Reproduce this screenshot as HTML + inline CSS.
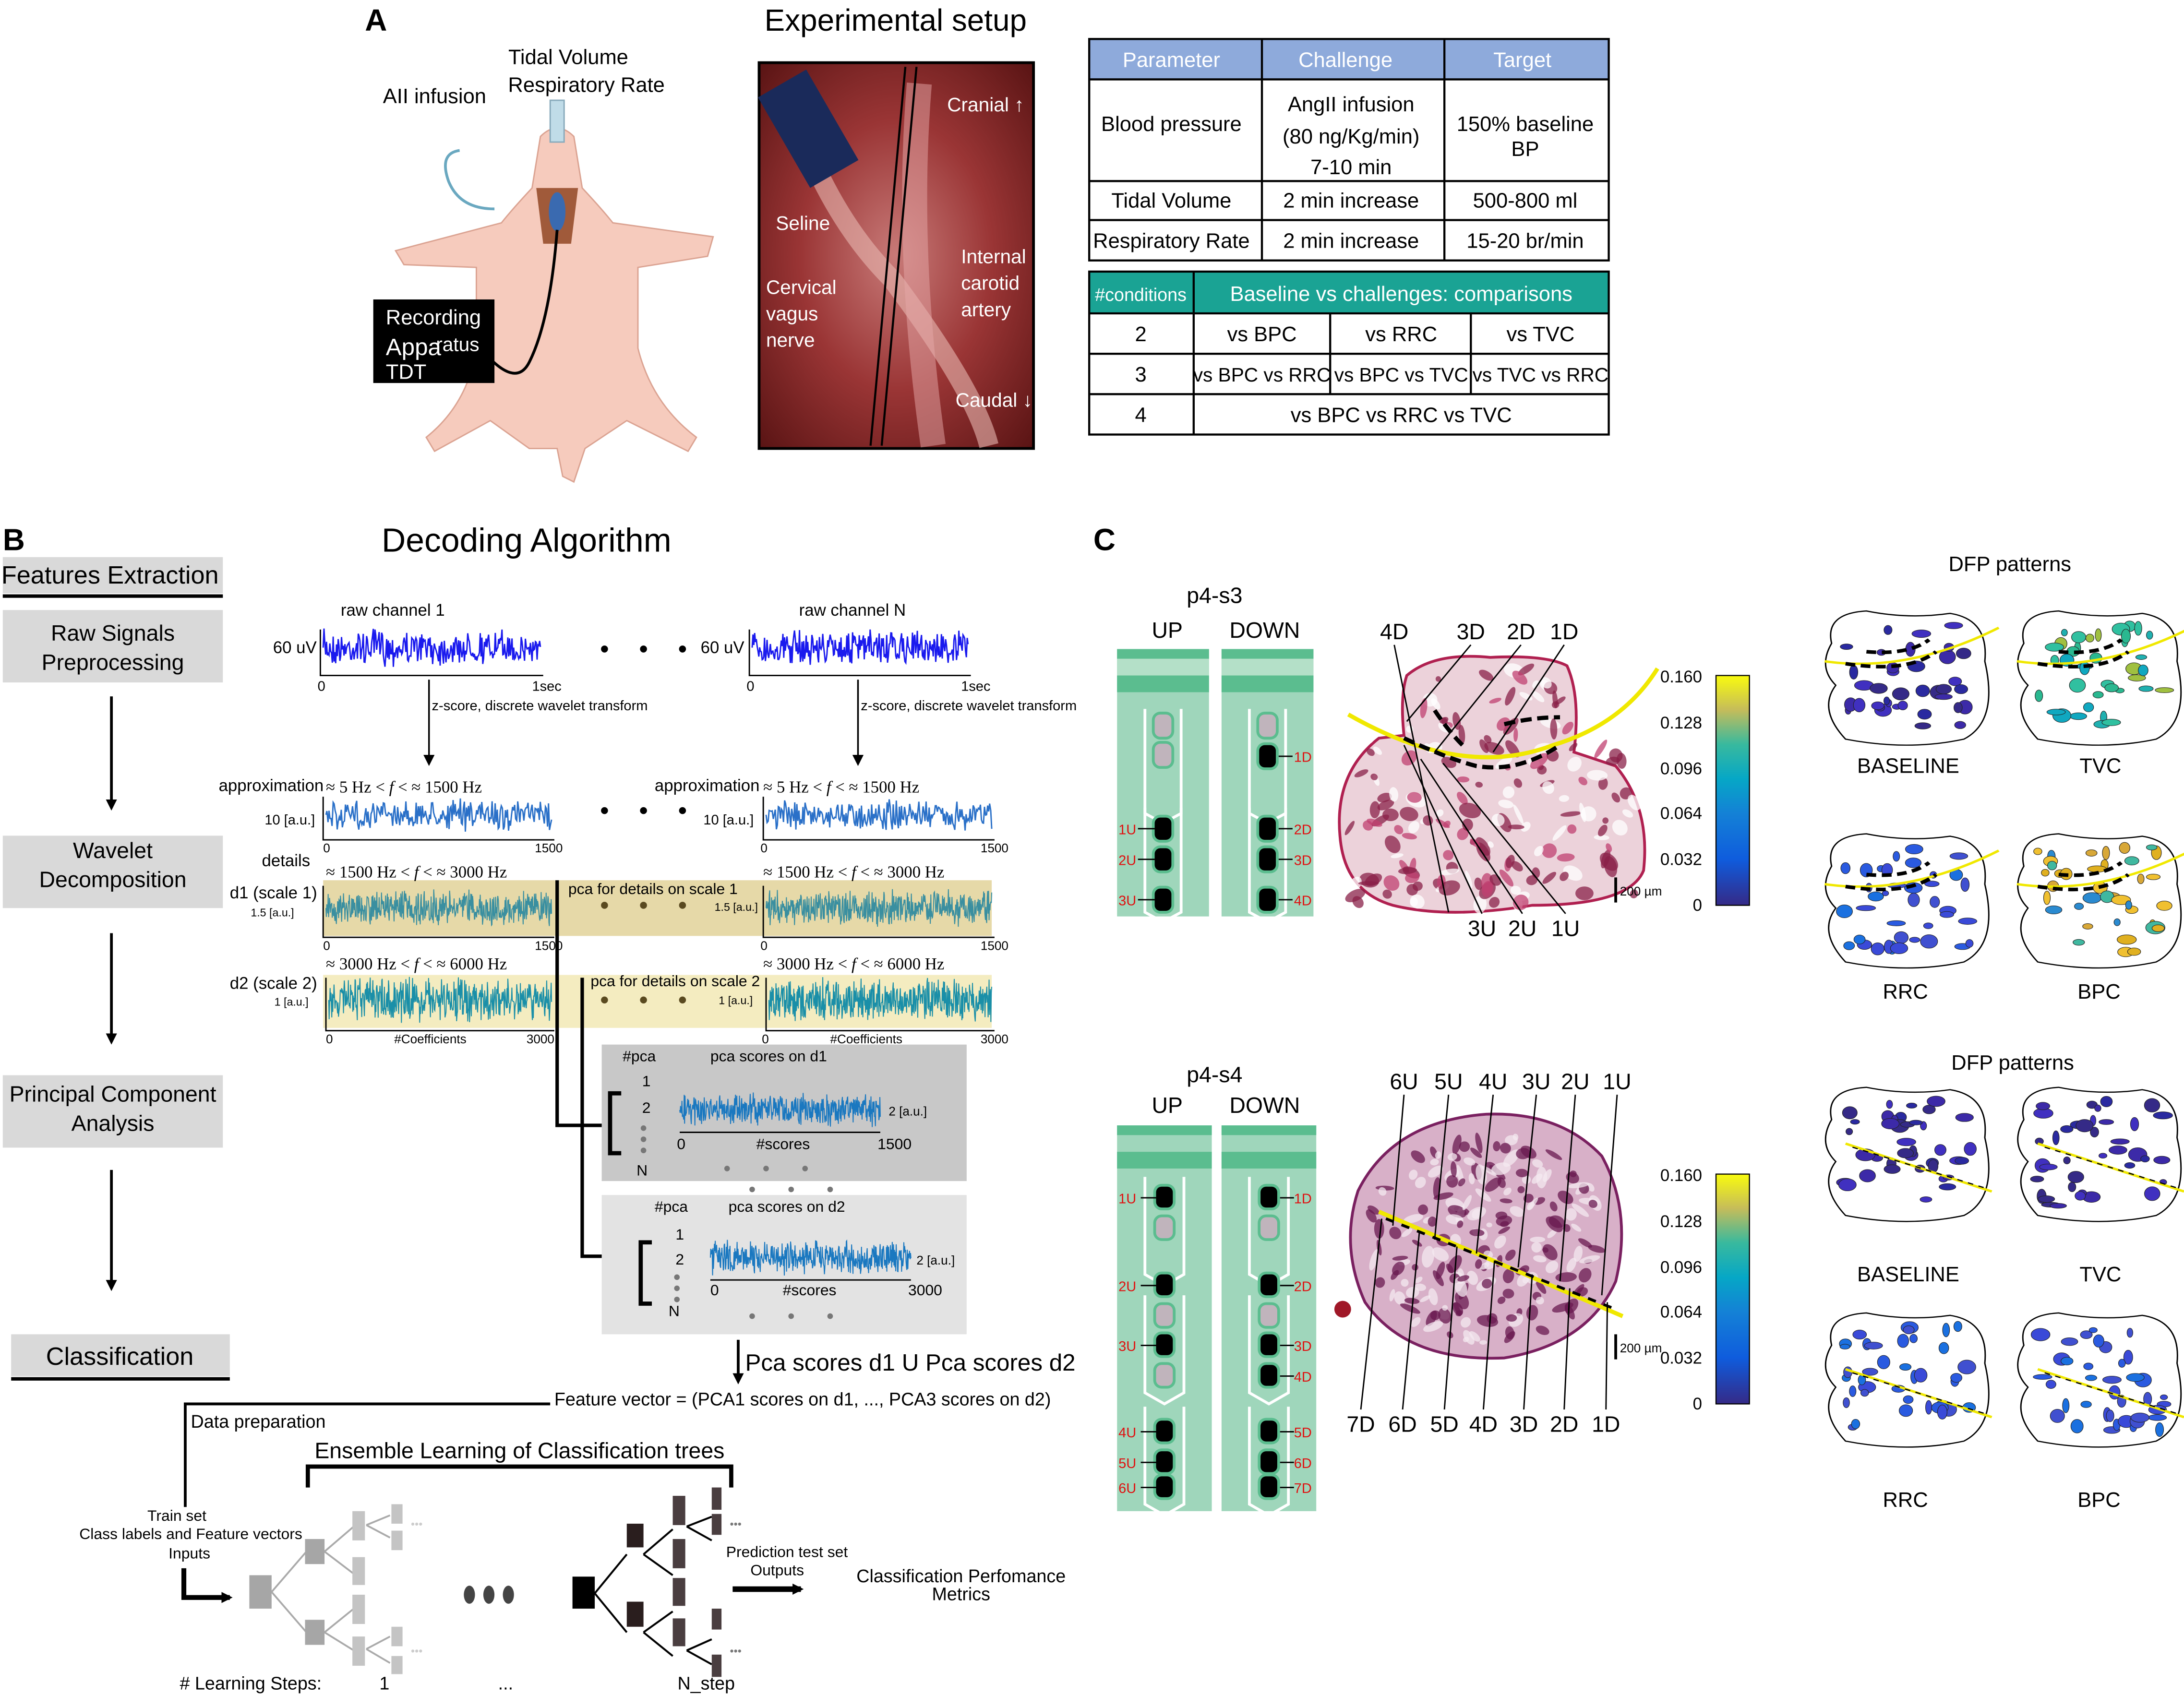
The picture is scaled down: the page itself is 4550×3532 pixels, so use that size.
<!DOCTYPE html>
<html><head><meta charset="utf-8">
<style>
html,body{margin:0;padding:0;background:#fff;}
svg{display:block;font-family:"Liberation Sans",sans-serif;}
</style></head>
<body>
<svg id="s" width="4550" height="3532" viewBox="0 0 1568 1217" preserveAspectRatio="none" xmlns="http://www.w3.org/2000/svg">
<defs>
<linearGradient id="cb" x1="0" y1="1" x2="0" y2="0">
<stop offset="0" stop-color="#352a87"/><stop offset="0.2" stop-color="#0f5cdd"/><stop offset="0.4" stop-color="#1481d6"/><stop offset="0.55" stop-color="#06a7c6"/><stop offset="0.7" stop-color="#38b99e"/><stop offset="0.85" stop-color="#c5bc5a"/><stop offset="1" stop-color="#f9fb0e"/>
</linearGradient>
<radialGradient id="ph" cx="0.5" cy="0.5" r="0.7">
<stop offset="0" stop-color="#c87a78"/><stop offset="0.5" stop-color="#9a3535"/><stop offset="1" stop-color="#5a1414"/>
</radialGradient>
<marker id="ar" markerWidth="8" markerHeight="8" refX="6" refY="4" orient="auto" markerUnits="userSpaceOnUse"><path d="M0,0 L8,4 L0,8z" fill="#000"/></marker>
</defs>
<rect width="1568" height="1217" fill="#fff"/>

<!-- PANEL A -->
<text x="262" y="22" font-size="22" font-weight="bold">A</text>
<text x="643" y="22" font-size="22" text-anchor="middle">Experimental setup</text>
<text x="408" y="46" font-size="15" text-anchor="middle">Tidal Volume</text>
<text x="421" y="66" font-size="15" text-anchor="middle">Respiratory Rate</text>
<text x="312" y="74" font-size="15" text-anchor="middle">AII infusion</text>
<path d="M388,98 Q400,86 412,98 L418,135 Q432,150 440,160 L512,170 L508,184 L458,192 L458,250 Q468,290 500,314 L494,324 L450,302 L420,322 L412,346 L404,342 L400,322 L380,322 L352,302 L312,324 L306,314 Q336,290 342,250 L342,192 L290,190 L284,180 L360,160 Q368,150 382,135 Z" fill="#f6cbbd" stroke="#dba392" stroke-width="1"/>
<path d="M385,135 L415,135 L410,175 L390,175 Z" fill="#a05a3a"/>
<ellipse cx="400" cy="152" rx="6" ry="14" fill="#3a6ab0"/>
<rect x="395" y="72" width="10" height="30" fill="#c0dce8" stroke="#8ab"/>
<path d="M355,150 Q330,150 322,130 Q315,110 330,108" fill="none" stroke="#6aa8c0" stroke-width="2"/>
<path d="M400,165 Q395,230 380,260 Q370,280 345,250" fill="none" stroke="#000" stroke-width="2"/>
<rect x="268" y="215" width="87" height="60" fill="#000"/>
<text x="277" y="233" font-size="15" fill="#fff">Recording</text>
<text x="277" y="255" font-size="17" fill="#fff">Appa</text>
<text x="313" y="252" font-size="14" fill="#fff">ratus</text>
<text x="277" y="272" font-size="15" fill="#fff">TDT</text>
<rect x="545" y="45" width="197" height="277" fill="url(#ph)" stroke="#000" stroke-width="2"/>
<path d="M575,95 Q600,160 640,200 Q700,280 710,320" fill="none" stroke="#e8b8b0" stroke-width="14" opacity="0.6"/>
<path d="M660,60 Q650,180 670,320" fill="none" stroke="#e6a8a8" stroke-width="18" opacity="0.5"/>
<line x1="650" y1="48" x2="625" y2="320" stroke="#000" stroke-width="1.5"/>
<line x1="658" y1="48" x2="633" y2="320" stroke="#000" stroke-width="1.5"/>
<rect x="560" y="55" width="40" height="75" fill="#1a2a5a" transform="rotate(-30 580 92)"/>
<text x="680" y="80" font-size="14" fill="#fff">Cranial ↑</text>
<text x="557" y="165" font-size="14" fill="#fff">Seline</text>
<text x="550" y="211" font-size="14" fill="#fff">Cervical</text>
<text x="550" y="230" font-size="14" fill="#fff">vagus</text>
<text x="550" y="249" font-size="14" fill="#fff">nerve</text>
<text x="690" y="189" font-size="14" fill="#fff">Internal</text>
<text x="690" y="208" font-size="14" fill="#fff">carotid</text>
<text x="690" y="227" font-size="14" fill="#fff">artery</text>
<text x="686" y="292" font-size="14" fill="#fff">Caudal ↓</text>
<g font-size="15" text-anchor="middle">
<rect x="782" y="28" width="373" height="29" fill="#8eaadb"/>
<rect x="782" y="28" width="373" height="159" fill="none" stroke="#000" stroke-width="1.5"/>
<line x1="906" y1="28" x2="906" y2="187" stroke="#000" stroke-width="1.5"/>
<line x1="1037" y1="28" x2="1037" y2="187" stroke="#000" stroke-width="1.5"/>
<line x1="782" y1="57" x2="1155" y2="57" stroke="#000" stroke-width="1.5"/>
<line x1="782" y1="130" x2="1155" y2="130" stroke="#000" stroke-width="1.5"/>
<line x1="782" y1="158" x2="1155" y2="158" stroke="#000" stroke-width="1.5"/>
<text x="841" y="48" fill="#fff">Parameter</text><text x="966" y="48" fill="#fff">Challenge</text><text x="1093" y="48" fill="#fff">Target</text>
<text x="841" y="94">Blood pressure</text>
<text x="970" y="80">AngII infusion</text><text x="970" y="103">(80 ng/Kg/min)</text><text x="970" y="125">7-10 min</text>
<text x="1095" y="94">150% baseline</text><text x="1095" y="112">BP</text>
<text x="841" y="149">Tidal Volume</text><text x="970" y="149">2 min increase</text><text x="1095" y="149">500-800 ml</text>
<text x="841" y="178">Respiratory Rate</text><text x="970" y="178">2 min increase</text><text x="1095" y="178">15-20 br/min</text>
</g>
<g font-size="15" text-anchor="middle">
<rect x="782" y="195" width="373" height="30" fill="#1aa394"/>
<rect x="782" y="195" width="373" height="117" fill="none" stroke="#000" stroke-width="1.5"/>
<line x1="857" y1="195" x2="857" y2="312" stroke="#000" stroke-width="1.5"/>
<line x1="955" y1="225" x2="955" y2="283" stroke="#000" stroke-width="1.5"/>
<line x1="1056" y1="225" x2="1056" y2="283" stroke="#000" stroke-width="1.5"/>
<line x1="782" y1="225" x2="1155" y2="225" stroke="#000" stroke-width="1.5"/>
<line x1="782" y1="254" x2="1155" y2="254" stroke="#000" stroke-width="1.5"/>
<line x1="782" y1="283" x2="1155" y2="283" stroke="#000" stroke-width="1.5"/>
<text x="819" y="216" fill="#fff" font-size="13">#conditions</text>
<text x="1006" y="216" fill="#fff">Baseline vs challenges: comparisons</text>
<text x="819" y="245">2</text><text x="906" y="245">vs BPC</text><text x="1006" y="245">vs RRC</text><text x="1106" y="245">vs TVC</text>
<text x="819" y="274">3</text><text x="906" y="274" font-size="14">vs BPC vs RRC</text><text x="1006" y="274" font-size="14">vs BPC vs TVC</text><text x="1106" y="274" font-size="14">vs TVC vs RRC</text>
<text x="819" y="303">4</text><text x="1006" y="303">vs BPC vs RRC vs TVC</text>
</g>

<!-- PANEL B -->
<text x="2" y="395" font-size="22" font-weight="bold">B</text>
<text x="378" y="396" font-size="24" text-anchor="middle">Decoding Algorithm</text>
<rect x="2" y="400" width="158" height="26" fill="#d9d9d9"/>
<line x1="2" y1="428" x2="160" y2="428" stroke="#000" stroke-width="2.5"/>
<text x="79" y="419" font-size="18" text-anchor="middle">Features Extraction</text>
<rect x="2" y="438" width="158" height="52" fill="#d9d9d9"/>
<text x="81" y="460" font-size="16" text-anchor="middle">Raw Signals</text><text x="81" y="481" font-size="16" text-anchor="middle">Preprocessing</text>
<rect x="2" y="600" width="158" height="52" fill="#d9d9d9"/>
<text x="81" y="616" font-size="16" text-anchor="middle">Wavelet</text><text x="81" y="637" font-size="16" text-anchor="middle">Decomposition</text>
<rect x="2" y="772" width="158" height="52" fill="#d9d9d9"/>
<text x="81" y="791" font-size="16" text-anchor="middle">Principal Component</text><text x="81" y="812" font-size="16" text-anchor="middle">Analysis</text>
<rect x="8" y="958" width="157" height="30" fill="#d9d9d9"/>
<line x1="8" y1="990" x2="165" y2="990" stroke="#000" stroke-width="2.5"/>
<text x="86" y="980" font-size="18" text-anchor="middle">Classification</text>
<g stroke="#000" stroke-width="2" marker-end="url(#ar)">
<line x1="80" y1="500" x2="80" y2="580"/><line x1="80" y1="670" x2="80" y2="748"/><line x1="80" y1="840" x2="80" y2="925"/>
</g>
<rect x="232" y="632" width="480" height="40" fill="#e6d9a8"/>
<rect x="232" y="700" width="480" height="38" fill="#f4ecc0"/>
<g font-size="12">
<text x="282" y="442" text-anchor="middle">raw channel 1</text>
<text x="612" y="442" text-anchor="middle">raw channel N</text>
<text x="196" y="469">60 uV</text><text x="503" y="469">60 uV</text>
<text x="228" y="496" font-size="10">0</text><text x="382" y="496" font-size="10">1sec</text>
<text x="536" y="496" font-size="10">0</text><text x="690" y="496" font-size="10">1sec</text>
<text x="310" y="510" font-size="10">z-score, discrete wavelet transform</text>
<text x="618" y="510" font-size="10">z-score, discrete wavelet transform</text>
<text x="157" y="568">approximation</text><text x="234" y="569" font-family="Liberation Serif">≈ 5 Hz &lt; <tspan font-style="italic">f</tspan> &lt; ≈ 1500 Hz</text>
<text x="470" y="568">approximation</text><text x="548" y="569" font-family="Liberation Serif">≈ 5 Hz &lt; <tspan font-style="italic">f</tspan> &lt; ≈ 1500 Hz</text>
<text x="190" y="592" font-size="10">10 [a.u.]</text><text x="505" y="592" font-size="10">10 [a.u.]</text>
<text x="188" y="622">details</text>
<text x="234" y="630" font-family="Liberation Serif">≈ 1500 Hz &lt; <tspan font-style="italic">f</tspan> &lt; ≈ 3000 Hz</text>
<text x="548" y="630" font-family="Liberation Serif">≈ 1500 Hz &lt; <tspan font-style="italic">f</tspan> &lt; ≈ 3000 Hz</text>
<text x="165" y="645">d1 (scale 1)</text><text x="180" y="658" font-size="8">1.5 [a.u.]</text>
<text x="234" y="696" font-family="Liberation Serif">≈ 3000 Hz &lt; <tspan font-style="italic">f</tspan> &lt; ≈ 6000 Hz</text>
<text x="548" y="696" font-family="Liberation Serif">≈ 3000 Hz &lt; <tspan font-style="italic">f</tspan> &lt; ≈ 6000 Hz</text>
<text x="165" y="710">d2 (scale 2)</text><text x="197" y="722" font-size="8">1 [a.u.]</text>
</g>
<text x="408" y="642" font-size="11">pca for details on scale 1</text>
<text x="424" y="708" font-size="11">pca for details on scale 2</text>
<text x="513" y="654" font-size="8">1.5 [a.u.]</text><text x="516" y="721" font-size="8">1 [a.u.]</text>
<g fill="#000"><circle cx="434" cy="466" r="2.5"/><circle cx="462" cy="466" r="2.5"/><circle cx="490" cy="466" r="2.5"/>
<circle cx="434" cy="582" r="2.5"/><circle cx="462" cy="582" r="2.5"/><circle cx="490" cy="582" r="2.5"/></g>
<g fill="#5a4a20"><circle cx="434" cy="650" r="2.5"/><circle cx="462" cy="650" r="2.5"/><circle cx="490" cy="650" r="2.5"/>
<circle cx="434" cy="718" r="2.5"/><circle cx="462" cy="718" r="2.5"/><circle cx="490" cy="718" r="2.5"/></g>
<g font-size="9"><text x="232" y="612">0</text><text x="384" y="612">1500</text><text x="546" y="612">0</text><text x="704" y="612">1500</text>
<text x="232" y="682">0</text><text x="384" y="682">1500</text><text x="546" y="682">0</text><text x="704" y="682">1500</text>
<text x="234" y="749">0</text><text x="378" y="749">3000</text><text x="547" y="749">0</text><text x="704" y="749">3000</text>
<text x="283" y="749">#Coefficients</text><text x="596" y="749">#Coefficients</text></g>
<g stroke="#000" stroke-width="1.2" marker-end="url(#ar)"><line x1="308" y1="488" x2="308" y2="548"/><line x1="616" y1="488" x2="616" y2="548"/></g>
<rect x="432" y="750" width="262" height="98" fill="#c8c8c8"/>
<rect x="432" y="858" width="262" height="100" fill="#e3e3e3"/>
<g font-size="11"><text x="447" y="762">#pca</text><text x="510" y="762">pca scores on d1</text>
<text x="461" y="780">1</text><text x="461" y="799">2</text><text x="457" y="844">N</text>
<text x="486" y="825">0</text><text x="543" y="825">#scores</text><text x="630" y="825">1500</text><text x="638" y="801" font-size="9">2 [a.u.]</text>
<text x="470" y="870">#pca</text><text x="523" y="870">pca scores on d2</text>
<text x="485" y="890">1</text><text x="485" y="908">2</text><text x="480" y="945">N</text>
<text x="510" y="930">0</text><text x="562" y="930">#scores</text><text x="652" y="930">3000</text><text x="658" y="908" font-size="9">2 [a.u.]</text></g>
<g fill="#777"><circle cx="462" cy="810" r="2"/><circle cx="462" cy="818" r="2"/><circle cx="462" cy="826" r="2"/><circle cx="522" cy="839" r="2"/><circle cx="550" cy="839" r="2"/><circle cx="578" cy="839" r="2"/>
<circle cx="486" cy="917" r="2"/><circle cx="486" cy="925" r="2"/><circle cx="486" cy="933" r="2"/><circle cx="540" cy="854" r="2"/><circle cx="568" cy="854" r="2"/><circle cx="596" cy="854" r="2"/><circle cx="540" cy="945" r="2"/><circle cx="568" cy="945" r="2"/><circle cx="596" cy="945" r="2"/></g>
<g stroke="#000" fill="none">
<path d="M400,632 L400,808 L432,808" stroke-width="2.5"/>
<path d="M418,702 L418,902 L432,902" stroke-width="2.5"/>
<path d="M446,785 L438,785 L438,828 L446,828" stroke-width="3"/>
<path d="M468,892 L460,892 L460,936 L468,936" stroke-width="3"/>
<line x1="488" y1="813" x2="632" y2="813" stroke-width="1"/><line x1="510" y1="919" x2="654" y2="919" stroke-width="1"/>
<line x1="530" y1="962" x2="530" y2="992" stroke-width="2" marker-end="url(#ar)"/>
<path d="M133,1082 L133,1008 L395,1008" stroke-width="2"/>
<path d="M221,1068 L221,1053 L525,1053 L525,1068" stroke-width="3"/>
<path d="M132,1126 L132,1147 L165,1147" stroke-width="3.5" marker-end="url(#ar)"/>
<line x1="526" y1="1141" x2="575" y2="1141" stroke-width="4" marker-end="url(#ar)"/>
</g>
<text x="535" y="984" font-size="17">Pca scores d1 U Pca scores d2</text>
<text x="398" y="1009" font-size="13">Feature vector = (PCA1 scores on d1, ..., PCA3 scores on d2)</text>
<text x="137" y="1025" font-size="13">Data preparation</text>
<text x="373" y="1047" font-size="16" text-anchor="middle">Ensemble Learning of Classification trees</text>
<g font-size="11" text-anchor="middle"><text x="127" y="1092">Train set</text><text x="137" y="1105">Class labels and Feature vectors</text><text x="136" y="1119">Inputs</text>
<text x="565" y="1118">Prediction test set</text><text x="558" y="1131">Outputs</text></g>
<text x="690" y="1136" font-size="13" text-anchor="middle">Classification Perfomance</text>
<text x="690" y="1149" font-size="13" text-anchor="middle">Metrics</text>
<g font-size="13" text-anchor="middle"><text x="180" y="1213">#  Learning Steps:</text><text x="276" y="1213">1</text><text x="363" y="1213">...</text><text x="507" y="1213">N_step</text></g>
<g fill="#444"><ellipse cx="337" cy="1145" rx="4" ry="6.5"/><ellipse cx="351" cy="1145" rx="4" ry="6.5"/><ellipse cx="365" cy="1145" rx="4" ry="6.5"/></g>
<!-- tree 1 -->
<g stroke="#aaa" stroke-width="1.3" fill="none">
<path d="M195,1143 L220,1114 M195,1143 L220,1172"/>
<path d="M233,1114 L254,1096 M233,1114 L254,1130 M233,1172 L254,1155 M233,1172 L254,1185"/>
<path d="M263,1095 L280,1088 M263,1095 L280,1104 M263,1184 L280,1175 M263,1184 L280,1194"/>
</g>
<g fill="#a6a6a6"><rect x="179" y="1131" width="16" height="24"/><rect x="219" y="1105" width="14" height="18"/><rect x="219" y="1163" width="14" height="18"/></g>
<g fill="#c4c4c4"><rect x="253" y="1085" width="9" height="21"/><rect x="253" y="1118" width="9" height="20"/><rect x="253" y="1145" width="9" height="21"/><rect x="253" y="1175" width="9" height="21"/>
<rect x="281" y="1080" width="8" height="14"/><rect x="281" y="1099" width="8" height="14"/><rect x="281" y="1168" width="8" height="14"/><rect x="281" y="1189" width="8" height="13"/></g>
<g fill="#ccc" font-size="8"><text x="295" y="1097">•••</text><text x="295" y="1188">•••</text></g>
<!-- tree 2 -->
<g stroke="#000" stroke-width="1.4" fill="none">
<path d="M427,1144 L450,1116 M427,1144 L450,1172"/>
<path d="M462,1116 L483,1098 M462,1116 L483,1131 M462,1172 L483,1157 M462,1172 L483,1189"/>
<path d="M493,1096 L511,1089 M493,1096 L511,1106 M493,1185 L511,1177 M493,1185 L511,1195"/>
</g>
<rect x="411" y="1132" width="16" height="23" fill="#000"/>
<g fill="#2a1e1e"><rect x="450" y="1094" width="12" height="17"/><rect x="450" y="1150" width="12" height="18"/></g>
<g fill="#4a3e40"><rect x="483" y="1074" width="9" height="21"/><rect x="483" y="1105" width="9" height="21"/><rect x="483" y="1133" width="9" height="20"/><rect x="483" y="1162" width="9" height="20"/>
<rect x="511" y="1068" width="7" height="16"/><rect x="511" y="1087" width="7" height="15"/><rect x="511" y="1155" width="7" height="15"/><rect x="511" y="1188" width="7" height="16"/></g>
<g fill="#777" font-size="8"><text x="524" y="1097">•••</text><text x="524" y="1188">•••</text></g>

<!-- PANEL C -->
<text x="785" y="395" font-size="22" font-weight="bold">C</text>
<g id="probes"></g>
<g id="histo"></g>
<g font-size="16" text-anchor="middle">
<text x="872" y="433">p4-s3</text><text x="838" y="458">UP</text><text x="908" y="458">DOWN</text>
<text x="872" y="777">p4-s4</text><text x="838" y="799">UP</text><text x="908" y="799">DOWN</text>
<text x="1001" y="459">4D</text><text x="1056" y="459">3D</text><text x="1092" y="459">2D</text><text x="1123" y="459">1D</text>
<text x="1064" y="672">3U</text><text x="1093" y="672">2U</text><text x="1124" y="672">1U</text>
<text x="1008" y="782">6U</text><text x="1040" y="782">5U</text><text x="1072" y="782">4U</text><text x="1103" y="782">3U</text><text x="1131" y="782">2U</text><text x="1161" y="782">1U</text>
<text x="977" y="1028">7D</text><text x="1007" y="1028">6D</text><text x="1037" y="1028">5D</text><text x="1065" y="1028">4D</text><text x="1094" y="1028">3D</text><text x="1123" y="1028">2D</text><text x="1153" y="1028">1D</text>
</g>
<g stroke="#000" stroke-width="2"><line x1="1160" y1="630" x2="1160" y2="648"/><line x1="1160" y1="958" x2="1160" y2="976"/></g>
<text x="1163" y="643" font-size="9">200 µm</text><text x="1163" y="971" font-size="9">200 µm</text>
<rect x="1232" y="485" width="24" height="165" fill="url(#cb)" stroke="#000" stroke-width="0.8"/>
<rect x="1232" y="843" width="24" height="165" fill="url(#cb)" stroke="#000" stroke-width="0.8"/>
<g font-size="12" text-anchor="end">
<text x="1222" y="490">0.160</text><text x="1222" y="523">0.128</text><text x="1222" y="556">0.096</text><text x="1222" y="588">0.064</text><text x="1222" y="621">0.032</text><text x="1222" y="654">0</text>
<text x="1222" y="848">0.160</text><text x="1222" y="881">0.128</text><text x="1222" y="914">0.096</text><text x="1222" y="946">0.064</text><text x="1222" y="979">0.032</text><text x="1222" y="1012">0</text>
</g>
<g font-size="15" text-anchor="middle">
<text x="1443" y="410">DFP patterns</text><text x="1445" y="768">DFP patterns</text>
<text x="1370" y="555">BASELINE</text><text x="1508" y="555">TVC</text><text x="1368" y="717">RRC</text><text x="1507" y="717">BPC</text>
<text x="1370" y="920">BASELINE</text><text x="1508" y="920">TVC</text><text x="1368" y="1082">RRC</text><text x="1507" y="1082">BPC</text>
</g>
<g id="dfp"></g>
<g id="sig"></g>
</svg>
<script>
var NS="http://www.w3.org/2000/svg";
function el(p,t,a){var e=document.createElementNS(NS,t);for(var k in a)e.setAttribute(k,a[k]);p.appendChild(e);return e;}
var seed=7;function r(){seed=(seed*16807)%2147483647;return seed/2147483647;}
var sig=document.getElementById('sig');
function noise(x0,x1,yc,amp,n,col,sw){var d="M"+x0+","+yc;for(var i=1;i<=n;i++){var x=x0+(x1-x0)*i/n;var y=yc+(r()-0.5)*2*amp*(0.5+r()*0.6);d+=" L"+x.toFixed(1)+","+y.toFixed(1);}el(sig,'path',{d:d,fill:'none',stroke:col,'stroke-width':sw});}
function axis(x0,x1,y,yt){el(sig,'path',{d:"M"+x0+","+yt+" L"+x0+","+y+" L"+x1+","+y,fill:'none',stroke:'#000','stroke-width':1});}
noise(232,388,465,13,260,'#1a1aee',1);axis(230,390,485,452);
noise(540,695,465,13,260,'#1a1aee',1);axis(538,697,485,452);
noise(234,396,585,11,220,'#2a70c8',1);axis(232,398,603,572);
noise(550,712,585,11,220,'#2a70c8',1);axis(548,714,603,572);
noise(234,396,652,13,500,'#3a8fa0',0.7);axis(232,398,673,636);
noise(550,712,652,13,500,'#3a8fa0',0.7);axis(548,714,673,636);
noise(236,396,718,16,500,'#1a8fa8',0.7);axis(234,398,740,702);
noise(552,712,718,16,500,'#1a8fa8',0.7);axis(550,714,740,702);
noise(488,632,797,12,450,'#1a78c0',0.7);
noise(510,654,903,12,450,'#1a78c0',0.7);
var P=document.getElementById('probes');
function probe(x,y,h,pads){
 el(P,'rect',{x:x,y:y,width:66,height:h,fill:'#9fd6bb'});
 el(P,'rect',{x:x,y:y,width:66,height:7,fill:'#5bbd8f'});
 el(P,'rect',{x:x,y:y+7,width:66,height:12,fill:'#b4e0c8'});
 el(P,'rect',{x:x,y:y+19,width:66,height:12,fill:'#5bbd8f'});
 pads.forEach(function(p){
  if(p.u) el(P,'path',{d:"M"+(x+20)+","+p.u+" L"+(x+20)+","+(p.u+75)+" L"+(x+33)+","+(p.u+82)+" L"+(x+46)+","+(p.u+75)+" L"+(x+46)+","+p.u,fill:'none',stroke:'#fff','stroke-width':2});
  if(p.y!==undefined){el(P,'rect',{x:x+25,y:p.y-2,width:16,height:20,rx:6,fill:'#5bbd8f'});el(P,'rect',{x:x+27,y:p.y,width:12,height:16,rx:4,fill:p.c?'#000':'#c0b4bc'});
   if(p.l){var left=p.l.indexOf('U')>=0;el(P,'line',{x1:left?x+15:x+41,y1:p.y+8,x2:left?x+27:x+51,y2:p.y+8,stroke:'#000','stroke-width':1});el(P,'text',{x:left?x+1:x+52,y:p.y+12,'font-size':'10',fill:'#e01010'}).textContent=p.l;}}
 });
}
probe(802,466,192,[{u:509},{y:513},{y:534},{u:580},{y:587,c:1,l:'1U'},{y:609,c:1,l:'2U'},{y:638,c:1,l:'3U'}]);
probe(877,466,192,[{u:509},{y:513},{y:535,c:1,l:'1D'},{u:580},{y:587,c:1,l:'2D'},{y:609,c:1,l:'3D'},{y:638,c:1,l:'4D'}]);
function probe2(x,side){
 el(P,'rect',{x:x,y:808,width:68,height:277,fill:'#9fd6bb'});
 el(P,'rect',{x:x,y:808,width:68,height:7,fill:'#5bbd8f'});el(P,'rect',{x:x,y:827,width:68,height:12,fill:'#5bbd8f'});
 [845,930,1010].forEach(function(u){el(P,'path',{d:"M"+(x+20)+","+u+" L"+(x+20)+","+(u+70)+" L"+(x+34)+","+(u+78)+" L"+(x+48)+","+(u+70)+" L"+(x+48)+","+u,fill:'none',stroke:'#fff','stroke-width':2});});
 var ys=[852,874,915,937,958,980,1020,1042,1060];var lab=side=='U'?{0:'1U',2:'2U',4:'3U',6:'4U',7:'5U',8:'6U'}:{0:'1D',2:'2D',4:'3D',5:'4D',6:'5D',7:'6D',8:'7D'};
 ys.forEach(function(y,i){var c=lab[i]!==undefined;el(P,'rect',{x:x+26,y:y-2,width:16,height:19,rx:6,fill:'#5bbd8f'});el(P,'rect',{x:x+28,y:y,width:12,height:15,rx:4,fill:c?'#000':'#c0b4bc'});
  if(c){var left=side=='U';el(P,'line',{x1:left?x+17:x+42,y1:y+8,x2:left?x+28:x+52,y2:y+8,stroke:'#000','stroke-width':1});el(P,'text',{x:left?x+1:x+52,y:y+12,'font-size':'10',fill:'#e01010'}).textContent=lab[i];}});
}
probe2(802,'U');probe2(877,'D');
var H=document.getElementById('histo');
el(H,'path',{d:"M1010,485 Q1030,468 1070,472 Q1110,470 1125,478 Q1135,500 1130,540 L1160,550 Q1185,580 1180,625 Q1170,650 1100,650 Q1040,660 1000,650 Q965,640 962,600 Q958,555 990,530 L1008,528 Q1005,500 1010,485Z",fill:'#ecd2da',stroke:'#b02050','stroke-width':2});
el(H,'path',{d:"M1067,800 Q1120,798 1150,830 Q1172,870 1160,920 Q1140,965 1080,975 Q1010,978 980,935 Q962,895 975,855 Q1000,805 1067,800Z",fill:'#d8b0c8',stroke:'#7a2060','stroke-width':2});
el(H,'circle',{cx:964,cy:940,r:6,fill:'#a01828'});
for(var i=0;i<200;i++){var x=965+r()*210,y=480+r()*170;var inside=(y>530&&x>968&&x<1175)||(y<=530&&x>1012&&x<1128);if(!inside)continue;el(H,'ellipse',{cx:x,cy:y,rx:2+r()*6,ry:1.5+r()*4,fill:r()<0.45?'#8a2048':(r()<0.5?'#fff':'#c04070'),opacity:0.75,transform:'rotate('+(r()*180)+' '+x+' '+y+')'});}
for(var i=0;i<200;i++){var a=r()*6.28,rr=Math.sqrt(r())*0.9;var x=1067+Math.cos(a)*95*rr,y=888+Math.sin(a)*85*rr;el(H,'ellipse',{cx:x,cy:y,rx:2+r()*6,ry:1.5+r()*3,fill:r()<0.55?'#6a1a50':'#f4eaf0',opacity:0.75,transform:'rotate('+(r()*180)+' '+x+' '+y+')'});}
el(H,'path',{d:"M968,513 Q1050,560 1115,535 Q1165,520 1190,480",fill:'none',stroke:'#f0e800','stroke-width':3});
el(H,'path',{d:"M1008,530 Q1040,545 1060,550 Q1090,555 1120,535",fill:'none',stroke:'#000','stroke-width':3,'stroke-dasharray':'8 4'});
el(H,'path',{d:"M1030,510 Q1040,525 1050,535 M1080,520 Q1100,515 1120,515",fill:'none',stroke:'#000','stroke-width':3,'stroke-dasharray':'8 4'});
el(H,'path',{d:"M990,870 L1165,945",stroke:'#f0e800','stroke-width':3});
el(H,'path',{d:"M995,875 L1160,940",stroke:'#000','stroke-width':2,'stroke-dasharray':'6 6'});
[[1001,463,1040,655],[1056,463,1010,518],[1092,463,1030,540],[1123,463,1072,540]].forEach(function(l){el(H,'line',{x1:l[0],y1:l[1],x2:l[2],y2:l[3],stroke:'#000','stroke-width':1});});
[[1064,656,1008,535],[1093,656,1020,545],[1124,656,1036,548]].forEach(function(l){el(H,'line',{x1:l[0],y1:l[1],x2:l[2],y2:l[3],stroke:'#000','stroke-width':1});});
[1008,1040,1072,1103,1131,1161].forEach(function(x,i){el(H,'line',{x1:x,y1:786,x2:1000+i*30,y2:880+i*10,stroke:'#000','stroke-width':1});});
[977,1007,1037,1065,1094,1123,1153].forEach(function(x,i){el(H,'line',{x1:x,y1:1012,x2:992+i*27,y2:875+i*10,stroke:'#000','stroke-width':1});});
var D=document.getElementById('dfp');
function blob(cx,cy,pal,yellowArc){
 var g=el(D,'g',{transform:'translate('+cx+','+cy+') scale(1,0.86)'});
 var d="M-55,-35 Q-60,-60 -30,-62 Q0,-55 30,-60 Q58,-55 55,-20 Q65,30 40,45 Q0,55 -45,45 Q-65,20 -52,0 Q-65,-15 -55,-35Z";
 el(g,'path',{d:d,fill:'#fff',stroke:'#000','stroke-width':1});
 for(var i=0;i<38;i++){var x=-46+r()*92,y=-52+r()*90;var c=pal[Math.floor(r()*pal.length)];el(g,'ellipse',{cx:x,cy:y,rx:2+r()*5,ry:2+r()*4,fill:c,stroke:'#222','stroke-width':0.4});}
 if(yellowArc){el(g,'path',{d:"M-60,-20 Q0,-10 65,-48",fill:'none',stroke:'#f0e800','stroke-width':2});el(g,'path',{d:"M-45,-18 Q0,-10 20,-28",fill:'none',stroke:'#000','stroke-width':3,'stroke-dasharray':'7 4'});el(g,'path',{d:"M-30,-28 Q0,-25 15,-38",fill:'none',stroke:'#000','stroke-width':3,'stroke-dasharray':'7 4'});}
 else{el(g,'line',{x1:-45,y1:-15,x2:60,y2:25,stroke:'#f0e800','stroke-width':2});el(g,'line',{x1:-40,y1:-12,x2:55,y2:22,stroke:'#000','stroke-width':1,'stroke-dasharray':'4 4'});}
}
var blu=['#3c2aa8','#352a87','#4030c0','#2a2aa0'],blu2=['#2a5ae0','#3a4ad8','#1a70e0','#4050d0'],tvc=['#20b0b0','#30c0a0','#a0c040','#10a8c0','#2ab890'],bpc=['#e0b020','#f0c030','#40b8a0','#d8a838','#2a8ad0'];
blob(1370,492,blu,true);blob(1508,492,tvc,true);blob(1370,652,blu2,true);blob(1508,652,bpc,true);
blob(1370,834,blu);blob(1508,834,blu);blob(1370,996,blu2);blob(1508,996,blu2);
</script>
</body></html>
